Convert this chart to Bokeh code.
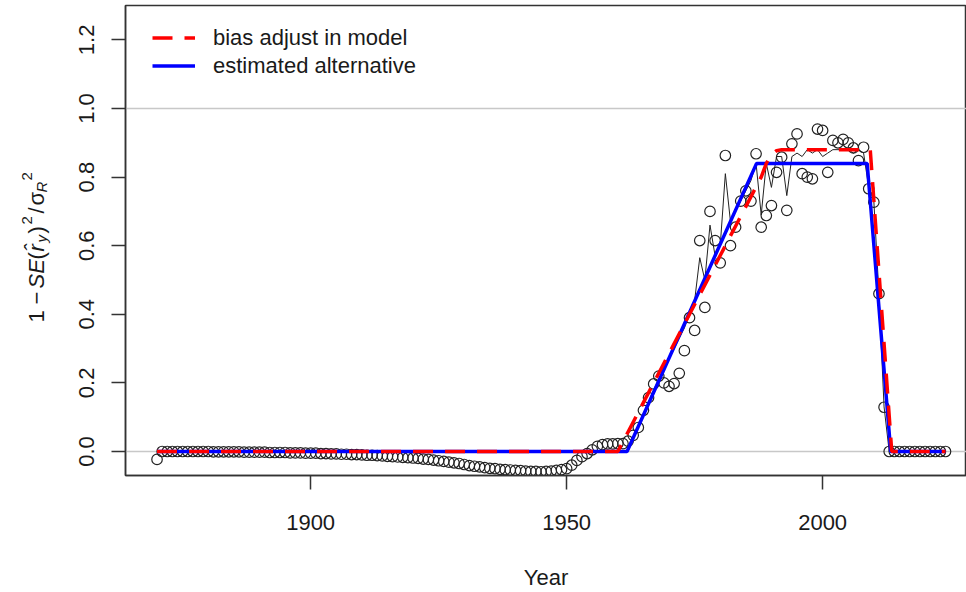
import math
from bokeh.plotting import figure
from bokeh.layouts import row
from bokeh.models import Range1d, FixedTicker, NumeralTickFormatter, Span, Label, Legend, LegendItem
from bokeh.embed import file_html
from bokeh.resources import INLINE

# ---------------- data ----------------
years = list(range(1870, 2025))
obs = [
    -0.023, 0.000, 0.000, 0.000, 0.000, 0.000, 0.000, 0.000, 0.000, 0.000,   # 1870-1879
    0.000, -0.001, -0.001, -0.001, -0.001, -0.001, -0.001, -0.002, -0.002, -0.002,  # 1880-1889
    -0.002, -0.002, -0.003, -0.003, -0.003, -0.003, -0.004, -0.004, -0.004, -0.005,  # 1890-1899
    -0.005, -0.005, -0.006, -0.006, -0.007, -0.007, -0.008, -0.008, -0.009, -0.009,  # 1900-1909
    -0.010, -0.011, -0.011, -0.012, -0.013, -0.014, -0.015, -0.016, -0.017, -0.018,  # 1910-1919
    -0.019, -0.020, -0.022, -0.023, -0.025, -0.027, -0.029, -0.031, -0.033, -0.035,  # 1920-1929
    -0.038, -0.041, -0.043, -0.045, -0.047, -0.049, -0.050, -0.052, -0.053, -0.054,  # 1930-1939
    -0.055, -0.056, -0.057, -0.058, -0.058, -0.059, -0.058, -0.057, -0.055, -0.053,  # 1940-1949
    -0.050, -0.040, -0.026, -0.015, -0.006, 0.005, 0.015, 0.020, 0.022, 0.022,       # 1950-1959
    0.023, 0.023, 0.030, 0.047, 0.070, 0.120, 0.157, 0.197, 0.220, 0.200,            # 1960-1969
    0.190, 0.198, 0.228, 0.294, 0.390, 0.353, 0.615, 0.420, 0.700, 0.615,            # 1970-1979
    0.550, 0.863, 0.600, 0.654, 0.730, 0.760, 0.730, 0.868, 0.654, 0.688,            # 1980-1989
    0.717, 0.814, 0.858, 0.703, 0.897, 0.926, 0.810, 0.800, 0.795, 0.940,            # 1990-1999
    0.936, 0.814, 0.907, 0.900, 0.910, 0.900, 0.885, 0.848, 0.887, 0.766,            # 2000-2009
    0.727, 0.460, 0.129, 0.000, 0.000, 0.000, 0.000, 0.000, 0.000, 0.000,            # 2010-2019
    0.000, 0.000, 0.000, 0.000, 0.000,                                                # 2020-2024
]
assert len(obs) == len(years)

thin_years = list(range(1962, 2014))
thin_vals = [
    0.000, 0.040, 0.075, 0.110, 0.145, 0.180, 0.210, 0.240,                # 1962-1969
    0.270, 0.300, 0.330, 0.360, 0.400, 0.440, 0.565, 0.500, 0.660, 0.570,  # 1970-1979
    0.600, 0.810, 0.670, 0.700, 0.730, 0.760, 0.790, 0.840, 0.690, 0.840,  # 1980-1989
    0.770, 0.860, 0.860, 0.746, 0.860, 0.870, 0.860, 0.880, 0.870, 0.880,  # 1990-1999
    0.860, 0.870, 0.880, 0.880, 0.880, 0.880, 0.870, 0.880, 0.870, 0.770,  # 2000-2009
    0.730, 0.460, 0.130, 0.000,                                            # 2010-2013
]
assert len(thin_vals) == len(thin_years)

bias_years = [1870, 1960, 1988, 1989, 1990, 1991, 1992, 2009.3, 2013.5, 2024]
bias_vals = [0.0, 0.0, 0.80, 0.84, 0.865, 0.877, 0.88, 0.88, 0.0, 0.0]

alt_years = [1870, 1961.8, 1987.1, 2008.7, 2013.3, 2024]
alt_vals = [0.0, 0.0, 0.84, 0.84, 0.0, 0.0]

x_ticks = [1900, 1950, 2000]
y_ticks = [0.0, 0.2, 0.4, 0.6, 0.8, 1.0, 1.2]
ref_lines = [0.0, 1.0]

legend_labels = ["bias adjust in model", "estimated alternative"]
x_title = "Year"

# ---------------- style ----------------
FONT = "Liberation Sans"
TXT = "#1a1a1a"
FRAME = "#333333"
H = 592
LAB_W = 60
TOP = 5
BOTTOM = 117

p = figure(width=966 - LAB_W, height=H, output_backend="svg", toolbar_location=None,
           x_range=Range1d(1863.84, 2028.1), y_range=Range1d(-0.07, 1.3003),
           min_border_left=125 - LAB_W, min_border_right=0, min_border_top=TOP,
           min_border_bottom=BOTTOM)
p.background_fill_color = "white"
p.border_fill_color = "white"
p.outline_line_color = FRAME
p.outline_line_width = 1.5
p.xgrid.visible = False
p.ygrid.visible = False

for ax in (p.xaxis, p.yaxis):
    ax.axis_line_color = FRAME
    ax.axis_line_width = 1.5
    ax.major_tick_line_color = FRAME
    ax.major_tick_line_width = 1.5
    ax.major_tick_in = 0
    ax.major_tick_out = 14
    ax.minor_tick_line_color = None
    ax.major_label_text_font = FONT
    ax.major_label_text_font_size = "22px"
    ax.major_label_text_color = TXT

p.xaxis.ticker = FixedTicker(ticks=x_ticks)
p.xaxis.major_label_standoff = 25
p.xaxis.axis_label = x_title
p.xaxis.axis_label_standoff = 32
p.xaxis.axis_label_text_font = FONT
p.xaxis.axis_label_text_font_size = "22px"
p.xaxis.axis_label_text_font_style = "normal"
p.xaxis.axis_label_text_color = TXT

p.yaxis.ticker = FixedTicker(ticks=y_ticks)
p.yaxis.formatter = NumeralTickFormatter(format="0.0")
p.yaxis.major_label_orientation = "vertical"
p.yaxis.major_label_standoff = 17

for v in ref_lines:
    p.add_layout(Span(location=v, dimension="width", line_color="#c8c8c8",
                      line_width=1.5, level="underlay"))

p.scatter(years, obs, marker="circle", size=10.5, fill_color=None,
          line_color="#222222", line_width=1.2)
p.line(thin_years, thin_vals, line_color="#222222", line_width=1)
r_blue = p.line(alt_years, alt_vals, line_color="#0000ff", line_width=3.5)
r_red = p.line(bias_years, bias_vals, line_color="#ff0000", line_width=3.5,
               line_dash="20 12")

legend = Legend(items=[LegendItem(label=legend_labels[0], renderers=[r_red]),
                       LegendItem(label=legend_labels[1], renderers=[r_blue])],
                location=(27, 396.5), border_line_color=None,
                background_fill_alpha=0, padding=0, margin=0, spacing=2,
                label_height=25, glyph_height=25, glyph_width=43, label_standoff=18,
                label_text_font=FONT, label_text_font_size="22px",
                label_text_color=TXT)
p.add_layout(legend)

# ---------------- y title panel (pieces, rotated, reading upward) ----------------
# its frame is aligned with the main frame (page y 5..475); data units = px from page bottom
lab = figure(width=LAB_W, height=H, output_backend="svg", toolbar_location=None,
             x_range=Range1d(0, LAB_W), y_range=Range1d(BOTTOM, H - TOP),
             x_axis_location=None, y_axis_location=None,
             min_border_left=0, min_border_right=0, min_border_top=TOP,
             min_border_bottom=BOTTOM)
lab.outline_line_color = None
lab.background_fill_color = "white"
lab.border_fill_color = "white"
lab.xgrid.visible = False
lab.ygrid.visible = False

# (text, font size, style, baseline shift [+ = superscript], start position from page top)
ylab_parts = [
    ("1", 22, "normal", 0, 322),
    ("\u2212", 22, "normal", 0, 304),
    ("SE", 22, "italic", 0, 288),
    ("(", 22, "normal", 0, 259),
    ("r\u0302", 22, "italic", 0, 251),
    ("y", 15, "italic", -5, 242),
    (")", 22, "normal", 0, 233),
    ("2", 15, "normal", 10, 224),
    ("/", 22, "normal", 0, 213),
    ("\u03c3", 22, "normal", 0, 205),
    ("R", 15, "italic", -5, 192),
    ("2", 15, "normal", 10, 180),
]
base_x = 36
for txt, size, style, shift, start in ylab_parts:
    lab.add_layout(Label(x=base_x - shift, y=H - start, text=txt, angle=math.pi / 2,
                         text_align="left", text_baseline="alphabetic", text_font=FONT,
                         text_font_size=f"{size}px", text_font_style=style,
                         text_color=TXT))

layout = row(lab, p)
open("out.html", "w").write(file_html(layout, INLINE))
